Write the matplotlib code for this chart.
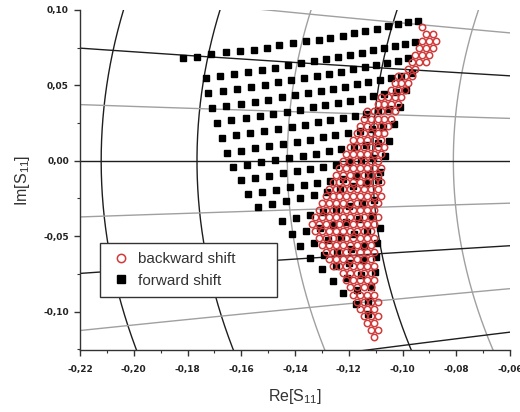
import matplotlib
matplotlib.use('Agg')
import matplotlib.pyplot as plt
from matplotlib.ticker import MultipleLocator, FuncFormatter
import numpy as np

plt.rcParams['font.family'] = ['Liberation Sans', 'DejaVu Sans']
plt.rcParams['mathtext.default'] = 'regular'

# forward shift (black squares), one list per row of the pattern
fwd_re_rows = [
    [-0.1818, -0.1763, -0.1712, -0.1657, -0.1605, -0.1554, -0.1506, -0.1459, -0.1407, -0.1360,
     -0.1312, -0.1268, -0.1220, -0.1180, -0.1139, -0.1095, -0.1055, -0.1015, -0.0978, -0.0941],
    [-0.1733, -0.1680, -0.1627, -0.1575, -0.1524, -0.1474, -0.1425, -0.1377, -0.1330, -0.1284,
     -0.1239, -0.1195, -0.1152, -0.1110, -0.1069, -0.1029, -0.0990, -0.0952],
    [-0.1722, -0.1669, -0.1616, -0.1564, -0.1513, -0.1463, -0.1414, -0.1366, -0.1319, -0.1273,
     -0.1228, -0.1184, -0.1141, -0.1099, -0.1058, -0.1018, -0.0979],
    [-0.1708, -0.1655, -0.1602, -0.1550, -0.1499, -0.1449, -0.1400, -0.1352, -0.1305, -0.1259,
     -0.1214, -0.1170, -0.1127, -0.1085, -0.1044, -0.1004, -0.0965],
    [-0.1690, -0.1637, -0.1584, -0.1532, -0.1481, -0.1431, -0.1382, -0.1334, -0.1287, -0.1241,
     -0.1196, -0.1152, -0.1109, -0.1067, -0.1026, -0.0986],
    [-0.1672, -0.1619, -0.1566, -0.1514, -0.1463, -0.1413, -0.1364, -0.1316, -0.1269, -0.1223,
     -0.1178, -0.1134, -0.1091, -0.1049, -0.1008],
    [-0.1653, -0.1600, -0.1547, -0.1495, -0.1444, -0.1394, -0.1345, -0.1297, -0.1250, -0.1204,
     -0.1159, -0.1115, -0.1072, -0.1030],
    [-0.1631, -0.1578, -0.1525, -0.1473, -0.1422, -0.1372, -0.1323, -0.1275, -0.1228, -0.1182,
     -0.1137, -0.1093, -0.1050],
    [-0.1602, -0.1549, -0.1496, -0.1444, -0.1393, -0.1343, -0.1294, -0.1246, -0.1199, -0.1153,
     -0.1108, -0.1064],
    [-0.1576, -0.1523, -0.1470, -0.1418, -0.1367, -0.1317, -0.1268, -0.1220, -0.1173, -0.1127,
     -0.1082],
    [-0.1539, -0.1486, -0.1433, -0.1381, -0.1330, -0.1280, -0.1231, -0.1183, -0.1136, -0.1090],
    [-0.1448, -0.1396, -0.1345, -0.1295, -0.1246, -0.1198, -0.1151, -0.1105],
    [-0.1411, -0.1359, -0.1308, -0.1258, -0.1209, -0.1161, -0.1114],
    [-0.1382, -0.1330, -0.1279, -0.1229, -0.1180, -0.1132, -0.1085],
    [-0.1345, -0.1293, -0.1242, -0.1192, -0.1143, -0.1095],
    [-0.1301, -0.1249, -0.1198, -0.1148, -0.1099],
    [-0.1257, -0.1205, -0.1154, -0.1104],
    [-0.1220, -0.1168, -0.1117],
    [-0.1172, -0.1128],
    [-0.1128],
]
fwd_im_rows = [
    [0.0680, 0.0687, 0.0707, 0.0720, 0.0727, 0.0733, 0.0747, 0.0767, 0.0780, 0.0793,
     0.0800, 0.0813, 0.0827, 0.0847, 0.0860, 0.0873, 0.0893, 0.0907, 0.0920, 0.0927],
    [0.0547, 0.0561, 0.0576, 0.0590, 0.0604, 0.0618, 0.0633, 0.0647, 0.0661, 0.0675,
     0.0690, 0.0704, 0.0718, 0.0732, 0.0747, 0.0761, 0.0775, 0.0789],
    [0.0447, 0.0462, 0.0476, 0.0491, 0.0505, 0.0520, 0.0534, 0.0549, 0.0563, 0.0578,
     0.0592, 0.0607, 0.0621, 0.0636, 0.0650, 0.0665, 0.0679],
    [0.0347, 0.0362, 0.0376, 0.0391, 0.0405, 0.0420, 0.0434, 0.0449, 0.0463, 0.0478,
     0.0492, 0.0507, 0.0521, 0.0536, 0.0550, 0.0565, 0.0579],
    [0.0253, 0.0268, 0.0282, 0.0297, 0.0311, 0.0326, 0.0340, 0.0355, 0.0369, 0.0384,
     0.0398, 0.0413, 0.0427, 0.0442, 0.0456, 0.0471],
    [0.0153, 0.0168, 0.0182, 0.0197, 0.0211, 0.0226, 0.0240, 0.0255, 0.0269, 0.0284,
     0.0298, 0.0313, 0.0327, 0.0342, 0.0356],
    [0.0053, 0.0068, 0.0082, 0.0097, 0.0111, 0.0126, 0.0140, 0.0155, 0.0169, 0.0184,
     0.0198, 0.0213, 0.0227, 0.0242],
    [-0.0040, -0.0025, -0.0011, 0.0004, 0.0018, 0.0033, 0.0047, 0.0062, 0.0076, 0.0091,
     0.0105, 0.0120, 0.0134],
    [-0.0127, -0.0112, -0.0098, -0.0083, -0.0069, -0.0054, -0.0040, -0.0025, -0.0011, 0.0004,
     0.0018, 0.0033],
    [-0.0220, -0.0206, -0.0191, -0.0177, -0.0162, -0.0148, -0.0133, -0.0119, -0.0104, -0.0090,
     -0.0075],
    [-0.0307, -0.0287, -0.0267, -0.0247, -0.0227, -0.0207, -0.0187, -0.0167, -0.0147, -0.0127],
    [-0.0400, -0.0380, -0.0360, -0.0340, -0.0320, -0.0300, -0.0280, -0.0260],
    [-0.0487, -0.0467, -0.0447, -0.0427, -0.0407, -0.0387, -0.0367],
    [-0.0567, -0.0547, -0.0527, -0.0507, -0.0487, -0.0467, -0.0447],
    [-0.0647, -0.0627, -0.0607, -0.0587, -0.0567, -0.0547],
    [-0.0720, -0.0700, -0.0680, -0.0660, -0.0640],
    [-0.0800, -0.0780, -0.0760, -0.0740],
    [-0.0880, -0.0860, -0.0840],
    [-0.0947, -0.0927],
    [-0.1013],
]

# backward shift (red rings): Im of each row and the Re values in it
bck_im_rows = [0.0887, 0.0840, 0.0794, 0.0747, 0.0700, 0.0654, 0.0607, 0.0560, 0.0514, 0.0467,
               0.0420, 0.0374, 0.0327, 0.0280, 0.0233, 0.0187, 0.0140, 0.0093, 0.0047, 0.0000,
               -0.0047, -0.0093, -0.0140, -0.0187, -0.0233, -0.0280, -0.0327, -0.0374, -0.0420,
               -0.0467, -0.0514, -0.0560, -0.0607, -0.0654, -0.0700, -0.0747, -0.0794, -0.0840,
               -0.0887, -0.0934, -0.0980, -0.1027, -0.1074, -0.1121, -0.1167]
bck_re_rows = [
    [-0.0927],
    [-0.0914, -0.0888],
    [-0.0927, -0.0901, -0.0875],
    [-0.0939, -0.0914, -0.0888],
    [-0.0952, -0.0927, -0.0901],
    [-0.0965, -0.0939, -0.0914],
    [-0.0978, -0.0952],
    [-0.1016, -0.0991, -0.0965],
    [-0.1029, -0.1004, -0.0978],
    [-0.1042, -0.1016, -0.0991],
    [-0.1081, -0.1055, -0.1029, -0.1004],
    [-0.1093, -0.1068, -0.1042, -0.1016],
    [-0.1132, -0.1106, -0.1081, -0.1055, -0.1029],
    [-0.1145, -0.1119, -0.1093, -0.1068, -0.1042],
    [-0.1158, -0.1132, -0.1106, -0.1081, -0.1055],
    [-0.1170, -0.1145, -0.1119, -0.1093, -0.1068],
    [-0.1183, -0.1158, -0.1132, -0.1106, -0.1081],
    [-0.1196, -0.1170, -0.1145, -0.1119, -0.1093, -0.1068],
    [-0.1209, -0.1183, -0.1158, -0.1132, -0.1106, -0.1081],
    [-0.1222, -0.1196, -0.1170, -0.1145, -0.1119, -0.1093],
    [-0.1235, -0.1209, -0.1183, -0.1158, -0.1132, -0.1106, -0.1081],
    [-0.1247, -0.1222, -0.1196, -0.1170, -0.1145, -0.1119, -0.1093],
    [-0.1260, -0.1235, -0.1209, -0.1183, -0.1158, -0.1132, -0.1106, -0.1081],
    [-0.1273, -0.1247, -0.1222, -0.1196, -0.1170, -0.1145, -0.1119, -0.1093],
    [-0.1286, -0.1260, -0.1235, -0.1209, -0.1183, -0.1158, -0.1132, -0.1106, -0.1081],
    [-0.1299, -0.1273, -0.1247, -0.1222, -0.1196, -0.1170, -0.1145, -0.1119, -0.1093],
    [-0.1312, -0.1286, -0.1260, -0.1235, -0.1209, -0.1183, -0.1158, -0.1132, -0.1106],
    [-0.1325, -0.1299, -0.1273, -0.1247, -0.1222, -0.1196, -0.1170, -0.1145, -0.1119, -0.1093],
    [-0.1338, -0.1312, -0.1286, -0.1260, -0.1235, -0.1209, -0.1183, -0.1158, -0.1132, -0.1106],
    [-0.1325, -0.1299, -0.1273, -0.1247, -0.1222, -0.1196, -0.1170, -0.1145, -0.1119],
    [-0.1312, -0.1286, -0.1260, -0.1235, -0.1209, -0.1183, -0.1158, -0.1132, -0.1106],
    [-0.1299, -0.1273, -0.1247, -0.1222, -0.1196, -0.1170, -0.1145, -0.1119],
    [-0.1286, -0.1260, -0.1235, -0.1209, -0.1183, -0.1158, -0.1132, -0.1106],
    [-0.1273, -0.1247, -0.1222, -0.1196, -0.1170, -0.1145, -0.1119],
    [-0.1260, -0.1235, -0.1209, -0.1183, -0.1158, -0.1132, -0.1106],
    [-0.1222, -0.1196, -0.1170, -0.1145, -0.1119],
    [-0.1209, -0.1183, -0.1158, -0.1132, -0.1106],
    [-0.1196, -0.1170, -0.1145, -0.1119],
    [-0.1183, -0.1158, -0.1132, -0.1106],
    [-0.1170, -0.1145, -0.1119, -0.1093],
    [-0.1158, -0.1132, -0.1106],
    [-0.1145, -0.1119, -0.1093],
    [-0.1132, -0.1106],
    [-0.1119, -0.1093],
    [-0.1106],
]

# smith chart grid: constant resistance and constant reactance circles
r_dark = [0.65, 0.7, 0.8]
r_grey = [0.75, 0.85]
x_dark = [0.1, -0.1, -0.2]
x_grey = [0.05, -0.05, 0.15, -0.15]

fwd_re = [v for row in fwd_re_rows for v in row]
fwd_im = [v for row in fwd_im_rows for v in row]
bck_re = [v for row in bck_re_rows for v in row]
bck_im = [im for im, row in zip(bck_im_rows, bck_re_rows) for v in row]

fig = plt.figure(figsize=(5.2, 4.12), dpi=100)
ax = fig.add_axes([80 / 520, 1 - 350 / 412, 430 / 520, 340 / 412])


def r_arc(r):
    c = r / (1 + r)
    rad = 1 / (1 + r)
    t = np.linspace(np.pi - 0.6, np.pi + 0.6, 400)
    return c + rad * np.cos(t), rad * np.sin(t)


def x_arc(x):
    gr = np.linspace(-0.3, 0.0, 400)
    rad = 1 / abs(x)
    gi = 1 / x - np.sign(x) * np.sqrt(rad ** 2 - (gr - 1) ** 2)
    return gr, gi


dark = '#1e1e1e'
grey = '#a0a0a0'
for r in r_dark:
    ax.plot(*r_arc(r), color=dark, lw=1.0, zorder=1)
for r in r_grey:
    ax.plot(*r_arc(r), color=grey, lw=1.0, zorder=1)
for x in x_dark:
    ax.plot(*x_arc(x), color=dark, lw=1.0, zorder=1)
for x in x_grey:
    ax.plot(*x_arc(x), color=grey, lw=1.0, zorder=1)
ax.axhline(0, color=dark, lw=1.0, zorder=1)

ax.plot(bck_re, bck_im, 'o', ls='none', ms=4.6, mfc='none', mec='#d03a3a', mew=1.1,
        zorder=3, label='backward shift')
ax.plot(fwd_re, fwd_im, 's', ls='none', ms=4.3, color='black', zorder=2, label='forward shift')

ax.set_xlim(-0.22, -0.06)
ax.set_ylim(-0.1255, 0.10)

for s in ['top', 'right']:
    ax.spines[s].set_visible(False)
for s in ['left', 'bottom']:
    ax.spines[s].set_color('#333333')
    ax.spines[s].set_linewidth(1.0)

comma = FuncFormatter(lambda v, p: ('0,00' if abs(v) < 1e-9 else f'{v:.2f}'.replace('.', ',')))
ax.xaxis.set_major_locator(MultipleLocator(0.02))
ax.xaxis.set_minor_locator(MultipleLocator(0.01))
ax.yaxis.set_major_locator(MultipleLocator(0.05))
ax.yaxis.set_minor_locator(MultipleLocator(0.025))
ax.xaxis.set_major_formatter(comma)
ax.yaxis.set_major_formatter(comma)
ax.tick_params(which='major', direction='out', length=4, width=1.0, color='#333333')
ax.tick_params(which='minor', direction='out', length=2.5, width=0.8, color='#333333')
ax.tick_params(axis='x', pad=7)
ax.tick_params(axis='y', pad=4)
for lab in ax.get_xticklabels() + ax.get_yticklabels():
    lab.set_fontfamily('DejaVu Sans')
    lab.set_fontweight('bold')
    lab.set_fontsize(6.5)
    lab.set_color('#222222')

ax.set_xlabel('Re[S$_{11}$]', fontsize=11.5, color='#333333', labelpad=9)
ax.set_ylabel('Im[S$_{11}$]', fontsize=11.5, color='#333333', labelpad=8)

leg = ax.legend(loc='upper left', bbox_to_anchor=(0.0465, 0.15, 0.4116, 0.165), mode='expand',
                borderaxespad=0, fontsize=11, frameon=True, fancybox=False, framealpha=1,
                edgecolor='#333333', handlelength=1.6, handletextpad=0.3, labelspacing=0.5,
                borderpad=0.6, markerscale=1.3)
leg.get_frame().set_linewidth(1.0)
for t in leg.get_texts():
    t.set_color('#333333')

fig.savefig('out.png', dpi=100)
